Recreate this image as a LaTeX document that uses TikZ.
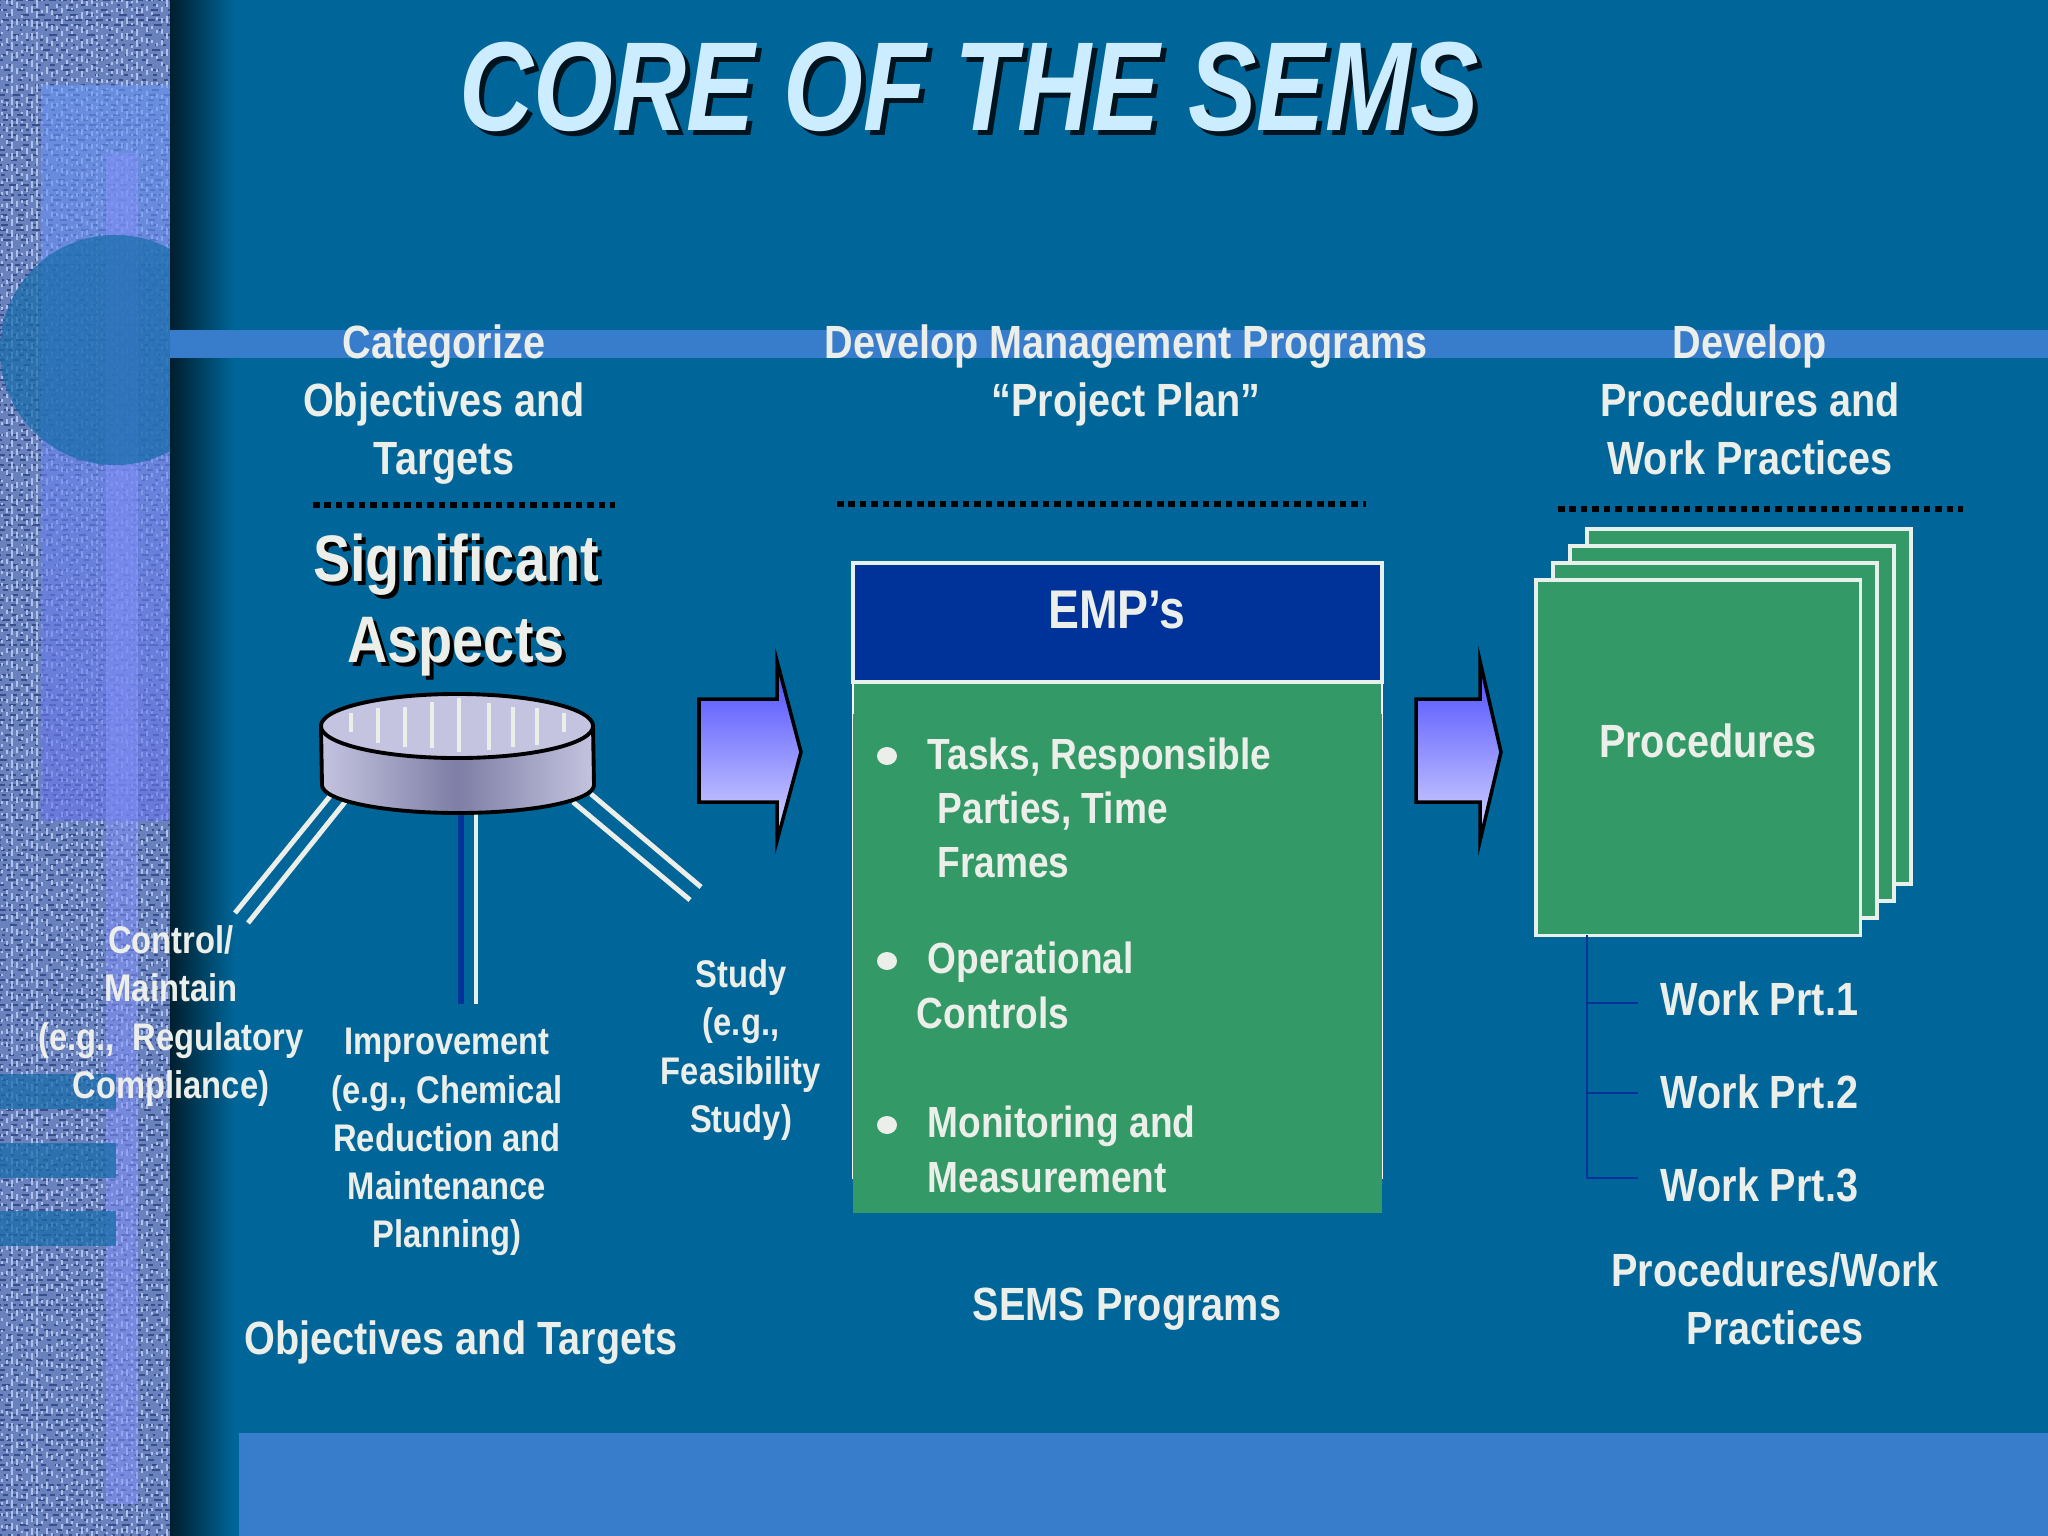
\documentclass[tikz,border=0pt]{standalone}
\usepackage{fontspec}
\setmainfont[FakeStretch=0.85]{Liberation Sans}
\newfontfamily\titlefont[FakeStretch=0.81]{Liberation Sans}
\usepackage{xcolor}
\usepackage{tikz}
\usetikzlibrary{positioning}
\definecolor{slide-blue}{RGB}{0,102,153}
\definecolor{band-blue}{RGB}{56,124,204}
\definecolor{deep-blue}{RGB}{0,51,153}
\definecolor{sheet-green}{RGB}{51,153,102}
\definecolor{text-white}{RGB}{236,238,234}
\definecolor{title-blue}{RGB}{204,236,255}
\definecolor{edge-white}{RGB}{232,240,236}
\definecolor{thread-base}{RGB}{105,130,190}
\definecolor{thread-dark}{RGB}{44,66,124}
\definecolor{thread-light}{RGB}{185,205,245}
\definecolor{patch-top}{RGB}{105,150,245}
\definecolor{patch-low}{RGB}{105,115,235}
\definecolor{spot-blue}{RGB}{22,108,170}
\definecolor{disc-pale}{RGB}{196,196,224}
\definecolor{disc-dark}{RGB}{126,126,166}
\definecolor{arrow-top}{RGB}{72,72,255}
\definecolor{arrow-low}{RGB}{218,218,255}
\tikzset{
    bigtext/.style={font=\fontsize{13.25}{16.5}\selectfont\bfseries, text=text-white, align=center, inner sep=0pt},
    smalltext/.style={font=\fontsize{10.95}{13.7}\selectfont\bfseries, text=text-white, align=center, inner sep=0pt},
    listtext/.style={font=\fontsize{12.4}{15}\selectfont\bfseries, text=text-white, anchor=base west, inner sep=0pt},
    headtext/.style={font=\fontsize{18.7}{23.3}\selectfont\bfseries, align=center, inner sep=0pt},
    titletext/.style={font=\fontsize{36}{42}\titlefont\bfseries\itshape, inner sep=0pt},
    dotline/.style={line width=1.7pt, dash pattern=on 1.85pt off 1.4pt, black},
    sheet/.style={fill=sheet-green, draw=edge-white, line width=0.95pt},
    leg/.style={draw=text-white, line width=1.4pt},
    twig/.style={draw=deep-blue, line width=0.6pt},
    blockarrow/.style={draw=black, line width=1pt, top color=arrow-top, bottom color=arrow-low},
}

\begin{document}
\begin{tikzpicture}[x=0.01cm,y=-0.01cm]
    \useasboundingbox (0,0) rectangle (2048,1536);
    \fill[slide-blue] (0,0) rectangle (2048,1536);

    % woven panel
    \begin{scope}
        \clip (0,0) rectangle (170,1536);
        \fill[thread-base] (0,0) rectangle (170,1536);
        \pgfmathsetseed{4711}
        \foreach \h in {0,5,...,1536} {
            \pgfmathsetmacro{\ona}{0.6+1.8*rnd}
            \pgfmathsetmacro{\ofa}{0.8+2.4*rnd}
            \pgfmathsetmacro{\phs}{5*rnd}
            \draw[thread-dark, opacity=0.8, line width=0.8pt, dash pattern=on \ona pt off \ofa pt, dash phase=\phs pt] (0,\h) -- (170,\h);
        }
        \foreach \v in {2,7,...,170} {
            \pgfmathsetmacro{\ona}{0.6+1.6*rnd}
            \pgfmathsetmacro{\ofa}{0.8+2.2*rnd}
            \pgfmathsetmacro{\phs}{5*rnd}
            \draw[thread-light, opacity=0.85, line width=0.8pt, dash pattern=on \ona pt off \ofa pt, dash phase=\phs pt] (\v,0) -- (\v,1536);
        }
        \shade[top color=patch-top, bottom color=patch-low, opacity=0.6] (41,85) rectangle (170,820);
        \fill[thread-light!70!blue, opacity=0.55] (106,153) rectangle (138,1504);
        \fill[spot-blue, opacity=0.72] (115,350) circle (1.15cm);
        \fill[spot-blue, opacity=0.72] (0,1074) rectangle (116,1109);
        \fill[spot-blue, opacity=0.72] (0,1143) rectangle (116,1178);
        \fill[spot-blue, opacity=0.72] (0,1211) rectangle (116,1246);
    \end{scope}

    \shade[left color=black!70!slide-blue, right color=slide-blue] (170,0) rectangle (235,1536);
    \fill[band-blue] (170,330) rectangle (2048,358);
    \fill[band-blue] (239,1433) rectangle (2048,1536);

    % title
    \node[titletext, text=black!80!slide-blue] at (974,92) {CORE OF THE SEMS};
    \node[titletext, text=title-blue] (title) at (969,87) {CORE OF THE SEMS};

    % column heads
    \node[bigtext] (head1) at (444,405) {Categorize\\Objectives and\\Targets};
    \node[bigtext] (head2) at (1126,375) {Develop Management Programs\\``Project Plan''};
    \node[bigtext] (head3) at (1750,400) {Develop\\Procedures and\\Work Practices};

    \draw[dotline] (313,505) -- (615,505);
    \draw[dotline] (837,504) -- (1366,504);
    \draw[dotline] (1558,509) -- (1963,509);

    \node[headtext, text=black] at (460,609) {Significant\\Aspects};
    \node[headtext, text=text-white] (aspects) at (456,605) {Significant\\Aspects};

    % legs of the disc
    \coordinate (L1) at (331,795);
    \coordinate (L1e) at (235,913);
    \coordinate (L2) at (345,802);
    \coordinate (L2e) at (248,923);
    \coordinate (M1) at (461,810);
    \coordinate (M1e) at (461,1004);
    \coordinate (M2) at (476,810);
    \coordinate (M2e) at (476,1004);
    \coordinate (R1) at (591,794);
    \coordinate (R1e) at (701,887);
    \coordinate (R2) at (573,802);
    \coordinate (R2e) at (690,900);

    \draw[leg] (L1)--(L1e);
    \draw[leg] (L2)--(L2e);
    \draw[draw=deep-blue, line width=1.6pt] (M1)--(M1e);
    \draw[leg] (M2)--(M2e);
    \draw[leg] (R1)--(R1e);
    \draw[leg] (R2)--(R2e);

    % disc
    \draw[black, line width=1.1pt, left color=disc-pale, right color=disc-pale, middle color=disc-dark]
        (321,726) -- (322,785) arc[start angle=180, end angle=0, x radius=136, y radius=28] -- (593,726) -- cycle;
    \draw[black, line width=1.1pt, fill=disc-pale] (457,726) ellipse (1.36cm and 0.32cm);
    \foreach \x/\a/\b in {351/713/732,378/708/743,405/707/747,432/702/748,459/698/752,489/703/750,513/707/747,537/708/745,564/713/732} {
        \draw[text-white, line width=1.3pt] (\x,\a) -- (\x,\b);
    }

    % block arrows
    \draw[blockarrow] (699,699) -- (777,699) -- (777,661) -- (801,752) -- (777,841) -- (777,802) -- (699,802) -- cycle;
    \draw[blockarrow] (1416,699) -- (1480,699) -- (1480,661) -- (1501,752) -- (1480,841) -- (1480,802) -- (1416,802) -- cycle;

    % EMP box
    \fill[sheet-green, draw=white, line width=0.8pt] (853,682) rectangle (1382,1178);
    \fill[sheet-green] (853,714) rectangle (1382,1213);
    \fill[deep-blue, draw=edge-white, line width=0.9pt] (853,563) rectangle (1382,682);
    \node[font=\fontsize{15.5}{18}\selectfont\bfseries, text=text-white, inner sep=0pt] (emp) at (1117,610) {EMP’s};

    \fill[text-white] (887,756) ellipse (0.1cm and 0.09cm);
    \fill[text-white] (887,961) ellipse (0.1cm and 0.09cm);
    \fill[text-white] (887,1125) ellipse (0.1cm and 0.09cm);
    \node[listtext] (task1) at (927,769) {Tasks, Responsible};
    \node[listtext] (task2) at (937,823) {Parties, Time};
    \node[listtext] (task3) at (937,877) {Frames};
    \node[listtext] (oper1) at (927,973) {Operational};
    \node[listtext] (oper2) at (916,1028) {Controls};
    \node[listtext] (moni1) at (927,1137) {Monitoring and};
    \node[listtext] (moni2) at (927,1192) {Measurement};

    % sheets
    \draw[sheet] (1587,529) rectangle (1911,884);
    \draw[sheet] (1570,546) rectangle (1894,901);
    \draw[sheet] (1553,563) rectangle (1877,918);
    \node[sheet, minimum width=3.24cm, minimum height=3.55cm, inner sep=0pt, outer sep=0pt, anchor=north west] (front) at (1536,580) {};
    \node[bigtext] (proc) at (1708,741) {Procedures};

    % work practices
    \coordinate (T0) at (front.south -| 1587,0);
    \coordinate (T1) at (1587,1003);
    \coordinate (T2) at (1587,1093);
    \coordinate (T3) at (1587,1178);
    \coordinate (B1) at (1638,1003);
    \coordinate (B2) at (1638,1093);
    \coordinate (B3) at (1638,1178);
    \draw[twig] (T0)--(T3);
    \draw[twig] (T1)--(B1);
    \draw[twig] (T2)--(B2);
    \draw[twig] (T3)--(B3);
    \node[bigtext, anchor=west] (prt1) at (1660,999) {Work Prt.1};
    \node[bigtext, anchor=west] (prt2) at (1660,1092) {Work Prt.2};
    \node[bigtext, anchor=west] (prt3) at (1660,1185) {Work Prt.3};
    \node[bigtext] (practices) at (1775,1299) {Procedures/Work\\Practices};

    % captions
    \node[smalltext] (control) at (171,1016) {Control/\\Maintain\\(e.g.,\ \ Regulatory\\Compliance)};
    \node[smalltext] (improve) at (447,1142) {Improvement\\(e.g., Chemical\\Reduction and\\Maintenance\\Planning)};
    \node[smalltext] (study) at (741,1050) {Study\\(e.g.,\\Feasibility\\Study)};
    \node[bigtext] (objectives) at (461,1343) {Objectives and Targets};
    \node[bigtext] (programs) at (1127,1309) {SEMS Programs};
\end{tikzpicture}
\end{document}
